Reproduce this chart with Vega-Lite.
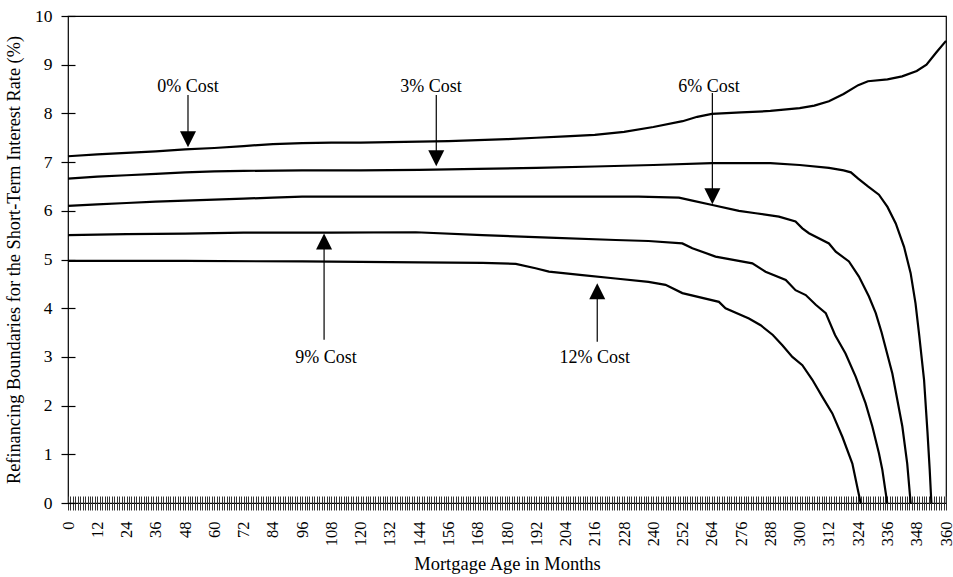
{
  "$schema": "https://vega.github.io/schema/vega-lite/v6.json",
  "width": 878,
  "height": 487,
  "autosize": "none",
  "padding": {"left": 68, "top": 16, "right": 7, "bottom": 74},
  "background": "white",
  "config": {
    "font": "Liberation Serif",
    "view": {"stroke": "black", "strokeWidth": 1.2},
    "axis": {"labelColor": "black", "titleColor": "black", "labelFont": "Liberation Serif", "titleFont": "Liberation Serif", "titleFontWeight": "normal", "grid": false}
  },
  "datasets": {
    "curves": [
      {"s": "0%", "m": 0, "v": 7.12}, {"s": "0%", "m": 12, "v": 7.16}, {"s": "0%", "m": 24, "v": 7.19}, {"s": "0%", "m": 36, "v": 7.22}, {"s": "0%", "m": 48, "v": 7.26}, {"s": "0%", "m": 60, "v": 7.29}, {"s": "0%", "m": 72, "v": 7.33}, {"s": "0%", "m": 84, "v": 7.37}, {"s": "0%", "m": 96, "v": 7.39}, {"s": "0%", "m": 108, "v": 7.40}, {"s": "0%", "m": 120, "v": 7.40}, {"s": "0%", "m": 132, "v": 7.41}, {"s": "0%", "m": 144, "v": 7.42}, {"s": "0%", "m": 156, "v": 7.43}, {"s": "0%", "m": 168, "v": 7.45}, {"s": "0%", "m": 180, "v": 7.47}, {"s": "0%", "m": 192, "v": 7.50}, {"s": "0%", "m": 204, "v": 7.53}, {"s": "0%", "m": 216, "v": 7.56}, {"s": "0%", "m": 228, "v": 7.62}, {"s": "0%", "m": 240, "v": 7.72}, {"s": "0%", "m": 252, "v": 7.84}, {"s": "0%", "m": 258, "v": 7.93}, {"s": "0%", "m": 264, "v": 7.99}, {"s": "0%", "m": 276, "v": 8.02}, {"s": "0%", "m": 288, "v": 8.05}, {"s": "0%", "m": 300, "v": 8.11}, {"s": "0%", "m": 306, "v": 8.16}, {"s": "0%", "m": 312, "v": 8.25}, {"s": "0%", "m": 318, "v": 8.40}, {"s": "0%", "m": 324, "v": 8.58}, {"s": "0%", "m": 328, "v": 8.66}, {"s": "0%", "m": 336, "v": 8.70}, {"s": "0%", "m": 342, "v": 8.76}, {"s": "0%", "m": 348, "v": 8.87}, {"s": "0%", "m": 352, "v": 9.00}, {"s": "0%", "m": 356, "v": 9.25}, {"s": "0%", "m": 360, "v": 9.49},

      {"s": "3%", "m": 0, "v": 6.66}, {"s": "3%", "m": 12, "v": 6.70}, {"s": "3%", "m": 24, "v": 6.73}, {"s": "3%", "m": 36, "v": 6.76}, {"s": "3%", "m": 48, "v": 6.79}, {"s": "3%", "m": 60, "v": 6.81}, {"s": "3%", "m": 72, "v": 6.82}, {"s": "3%", "m": 96, "v": 6.83}, {"s": "3%", "m": 120, "v": 6.83}, {"s": "3%", "m": 144, "v": 6.84}, {"s": "3%", "m": 168, "v": 6.86}, {"s": "3%", "m": 192, "v": 6.88}, {"s": "3%", "m": 216, "v": 6.91}, {"s": "3%", "m": 240, "v": 6.94}, {"s": "3%", "m": 264, "v": 6.98}, {"s": "3%", "m": 288, "v": 6.98}, {"s": "3%", "m": 300, "v": 6.94}, {"s": "3%", "m": 312, "v": 6.88}, {"s": "3%", "m": 318, "v": 6.83}, {"s": "3%", "m": 321, "v": 6.79}, {"s": "3%", "m": 324, "v": 6.66}, {"s": "3%", "m": 328, "v": 6.50}, {"s": "3%", "m": 332.5, "v": 6.33}, {"s": "3%", "m": 336, "v": 6.08}, {"s": "3%", "m": 339.4, "v": 5.74}, {"s": "3%", "m": 342.8, "v": 5.26}, {"s": "3%", "m": 345.5, "v": 4.72}, {"s": "3%", "m": 347.5, "v": 4.10}, {"s": "3%", "m": 349, "v": 3.45}, {"s": "3%", "m": 351, "v": 2.53}, {"s": "3%", "m": 352.4, "v": 1.46}, {"s": "3%", "m": 353.3, "v": 0.70}, {"s": "3%", "m": 354, "v": 0},

      {"s": "6%", "m": 0, "v": 6.10}, {"s": "6%", "m": 12, "v": 6.13}, {"s": "6%", "m": 24, "v": 6.16}, {"s": "6%", "m": 36, "v": 6.19}, {"s": "6%", "m": 48, "v": 6.21}, {"s": "6%", "m": 60, "v": 6.23}, {"s": "6%", "m": 72, "v": 6.25}, {"s": "6%", "m": 84, "v": 6.27}, {"s": "6%", "m": 96, "v": 6.29}, {"s": "6%", "m": 120, "v": 6.29}, {"s": "6%", "m": 144, "v": 6.29}, {"s": "6%", "m": 168, "v": 6.29}, {"s": "6%", "m": 192, "v": 6.29}, {"s": "6%", "m": 216, "v": 6.29}, {"s": "6%", "m": 234, "v": 6.29}, {"s": "6%", "m": 250.5, "v": 6.27}, {"s": "6%", "m": 256, "v": 6.21}, {"s": "6%", "m": 264.2, "v": 6.12}, {"s": "6%", "m": 275.1, "v": 6.00}, {"s": "6%", "m": 282, "v": 5.95}, {"s": "6%", "m": 291.5, "v": 5.88}, {"s": "6%", "m": 298.3, "v": 5.78}, {"s": "6%", "m": 301.1, "v": 5.64}, {"s": "6%", "m": 303.8, "v": 5.54}, {"s": "6%", "m": 312, "v": 5.33}, {"s": "6%", "m": 314.8, "v": 5.16}, {"s": "6%", "m": 320.2, "v": 4.96}, {"s": "6%", "m": 324.3, "v": 4.65}, {"s": "6%", "m": 328.4, "v": 4.24}, {"s": "6%", "m": 331.2, "v": 3.90}, {"s": "6%", "m": 333.6, "v": 3.50}, {"s": "6%", "m": 338, "v": 2.66}, {"s": "6%", "m": 342.1, "v": 1.57}, {"s": "6%", "m": 344.1, "v": 0.81}, {"s": "6%", "m": 345.5, "v": 0},

      {"s": "9%", "m": 0, "v": 5.50}, {"s": "9%", "m": 12, "v": 5.51}, {"s": "9%", "m": 24, "v": 5.52}, {"s": "9%", "m": 48, "v": 5.53}, {"s": "9%", "m": 72, "v": 5.55}, {"s": "9%", "m": 108, "v": 5.55}, {"s": "9%", "m": 142.6, "v": 5.56}, {"s": "9%", "m": 169.9, "v": 5.50}, {"s": "9%", "m": 197.2, "v": 5.45}, {"s": "9%", "m": 224.5, "v": 5.40}, {"s": "9%", "m": 238, "v": 5.38}, {"s": "9%", "m": 251.9, "v": 5.33}, {"s": "9%", "m": 256, "v": 5.23}, {"s": "9%", "m": 265.5, "v": 5.06}, {"s": "9%", "m": 280.6, "v": 4.92}, {"s": "9%", "m": 286, "v": 4.75}, {"s": "9%", "m": 294.3, "v": 4.58}, {"s": "9%", "m": 298.3, "v": 4.37}, {"s": "9%", "m": 302.5, "v": 4.27}, {"s": "9%", "m": 306.6, "v": 4.07}, {"s": "9%", "m": 310.7, "v": 3.90}, {"s": "9%", "m": 314.5, "v": 3.45}, {"s": "9%", "m": 318.8, "v": 3.07}, {"s": "9%", "m": 323, "v": 2.59}, {"s": "9%", "m": 327, "v": 2.05}, {"s": "9%", "m": 329.8, "v": 1.57}, {"s": "9%", "m": 332.5, "v": 1.02}, {"s": "9%", "m": 333.9, "v": 0.68}, {"s": "9%", "m": 335.9, "v": 0},

      {"s": "12%", "m": 0, "v": 4.97}, {"s": "12%", "m": 48, "v": 4.97}, {"s": "12%", "m": 96, "v": 4.96}, {"s": "12%", "m": 120, "v": 4.95}, {"s": "12%", "m": 144, "v": 4.94}, {"s": "12%", "m": 170, "v": 4.93}, {"s": "12%", "m": 183.6, "v": 4.91}, {"s": "12%", "m": 191.7, "v": 4.82}, {"s": "12%", "m": 197.2, "v": 4.75}, {"s": "12%", "m": 210.9, "v": 4.68}, {"s": "12%", "m": 224.5, "v": 4.61}, {"s": "12%", "m": 238, "v": 4.54}, {"s": "12%", "m": 245, "v": 4.48}, {"s": "12%", "m": 251.9, "v": 4.31}, {"s": "12%", "m": 266.9, "v": 4.13}, {"s": "12%", "m": 269.6, "v": 4.00}, {"s": "12%", "m": 279.2, "v": 3.79}, {"s": "12%", "m": 284, "v": 3.65}, {"s": "12%", "m": 289, "v": 3.45}, {"s": "12%", "m": 292.9, "v": 3.24}, {"s": "12%", "m": 297, "v": 3.00}, {"s": "12%", "m": 301.1, "v": 2.83}, {"s": "12%", "m": 305.2, "v": 2.53}, {"s": "12%", "m": 309.3, "v": 2.18}, {"s": "12%", "m": 313.4, "v": 1.84}, {"s": "12%", "m": 317.5, "v": 1.36}, {"s": "12%", "m": 321.6, "v": 0.81}, {"s": "12%", "m": 325, "v": 0}
    ],
    "labels": [
      {"t": "0% Cost", "m": 49.2, "v": 8.54},
      {"t": "3% Cost", "m": 148.8, "v": 8.54},
      {"t": "6% Cost", "m": 262.8, "v": 8.54},
      {"t": "9% Cost", "m": 105.8, "v": 2.98},
      {"t": "12% Cost", "m": 216.0, "v": 2.97}
    ],
    "arrows": [
      {"m": 49.2, "v": 8.38, "v2": 7.45},
      {"m": 151.0, "v": 8.38, "v2": 7.10},
      {"m": 264.2, "v": 8.42, "v2": 6.30},
      {"m": 105.0, "v": 3.35, "v2": 5.30},
      {"m": 217.0, "v": 3.31, "v2": 4.30}
    ],
    "heads": [
      {"m": 49.2, "v": 7.47, "dir": "down"},
      {"m": 151.0, "v": 7.08, "dir": "down"},
      {"m": 264.2, "v": 6.30, "dir": "down"},
      {"m": 105.0, "v": 5.37, "dir": "up"},
      {"m": 217.0, "v": 4.35, "dir": "up"}
    ]
  },
  "layer": [
    {
      "data": {"name": "curves"},
      "mark": {"type": "line", "color": "black", "strokeWidth": 2.2},
      "encoding": {
        "x": {
          "field": "m", "type": "quantitative",
          "scale": {"domain": [0, 360], "nice": false, "zero": false},
          "title": "Mortgage Age in Months",
          "axis": {
            "values": [0,1,2,3,4,5,6,7,8,9,10,11,12,13,14,15,16,17,18,19,20,21,22,23,24,25,26,27,28,29,30,31,32,33,34,35,36,37,38,39,40,41,42,43,44,45,46,47,48,49,50,51,52,53,54,55,56,57,58,59,60,61,62,63,64,65,66,67,68,69,70,71,72,73,74,75,76,77,78,79,80,81,82,83,84,85,86,87,88,89,90,91,92,93,94,95,96,97,98,99,100,101,102,103,104,105,106,107,108,109,110,111,112,113,114,115,116,117,118,119,120,121,122,123,124,125,126,127,128,129,130,131,132,133,134,135,136,137,138,139,140,141,142,143,144,145,146,147,148,149,150,151,152,153,154,155,156,157,158,159,160,161,162,163,164,165,166,167,168,169,170,171,172,173,174,175,176,177,178,179,180,181,182,183,184,185,186,187,188,189,190,191,192,193,194,195,196,197,198,199,200,201,202,203,204,205,206,207,208,209,210,211,212,213,214,215,216,217,218,219,220,221,222,223,224,225,226,227,228,229,230,231,232,233,234,235,236,237,238,239,240,241,242,243,244,245,246,247,248,249,250,251,252,253,254,255,256,257,258,259,260,261,262,263,264,265,266,267,268,269,270,271,272,273,274,275,276,277,278,279,280,281,282,283,284,285,286,287,288,289,290,291,292,293,294,295,296,297,298,299,300,301,302,303,304,305,306,307,308,309,310,311,312,313,314,315,316,317,318,319,320,321,322,323,324,325,326,327,328,329,330,331,332,333,334,335,336,337,338,339,340,341,342,343,344,345,346,347,348,349,350,351,352,353,354,355,356,357,358,359,360],
            "tickCount": 1000,
            "format": "d",
            "labelExpr": "datum.value % 12 === 0 ? datum.label : ''",
            "labelAngle": 270,
            "labelAlign": "right",
            "labelBaseline": "middle",
            "labelOverlap": false,
            "labelFlush": false,
            "labelFontSize": 16.5,
            "labelPadding": 11,
            "domain": false,
            "offset": -7,
            "tickSize": 14,
            "tickColor": "#333",
            "tickWidth": 1,
            "titleFontSize": 18.5,
            "titlePadding": 9
          }
        },
        "y": {
          "field": "v", "type": "quantitative",
          "scale": {"domain": [0, 10], "nice": false},
          "title": "Refinancing Boundaries for the Short-Term Interest Rate (%)",
          "axis": {
            "values": [0,1,2,3,4,5,6,7,8,9,10],
            "tickCount": 100,
            "format": "d",
            "domain": false,
            "offset": -7,
            "tickSize": 14,
            "tickColor": "black",
            "tickWidth": 1.2,
            "labelFontSize": 17.5,
            "labelPadding": 9,
            "titleFontSize": 18.3,
            "titlePadding": 11
          }
        },
        "detail": {"field": "s", "type": "nominal"}
      }
    },
    {
      "data": {"name": "arrows"},
      "mark": {"type": "rule", "color": "black", "strokeWidth": 1.2},
      "encoding": {
        "x": {"field": "m", "type": "quantitative", "title": "Mortgage Age in Months"},
        "y": {"field": "v", "type": "quantitative", "title": "Refinancing Boundaries for the Short-Term Interest Rate (%)"},
        "y2": {"field": "v2"}
      }
    },
    {
      "data": {"name": "heads"},
      "mark": {"type": "point", "filled": true, "color": "black", "size": 256, "opacity": 1, "strokeWidth": 0},
      "encoding": {
        "x": {"field": "m", "type": "quantitative", "title": "Mortgage Age in Months"},
        "y": {"field": "v", "type": "quantitative", "title": "Refinancing Boundaries for the Short-Term Interest Rate (%)"},
        "shape": {
          "field": "dir", "type": "nominal",
          "scale": {"domain": ["down", "up"], "range": ["M-1,-1L1,-1L0,1Z", "M-1,1L1,1L0,-1Z"]},
          "legend": null
        }
      }
    },
    {
      "data": {"name": "labels"},
      "mark": {"type": "text", "color": "black", "fontSize": 18, "font": "Liberation Serif", "align": "center", "baseline": "middle"},
      "encoding": {
        "x": {"field": "m", "type": "quantitative", "title": "Mortgage Age in Months"},
        "y": {"field": "v", "type": "quantitative", "title": "Refinancing Boundaries for the Short-Term Interest Rate (%)"},
        "text": {"field": "t"}
      }
    }
  ]
}
